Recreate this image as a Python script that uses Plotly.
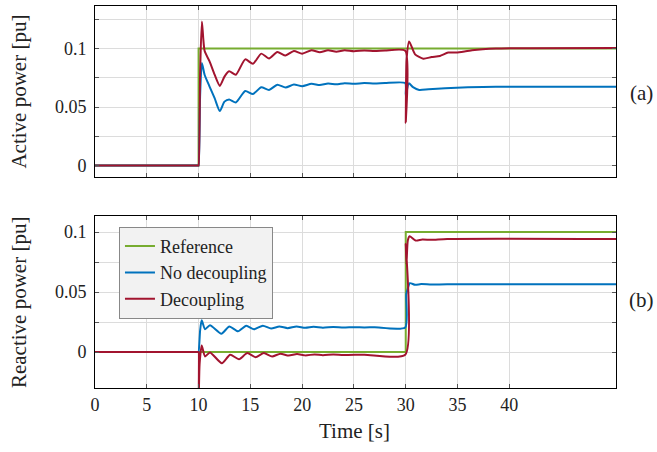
import plotly.graph_objects as go

# ---------------- data ----------------
# (a) Active power
t_ref_p = [0, 10, 10, 50.3]
v_ref_p = [0, 0, 0.1, 0.1]

t_nodec_p = [0, 9.97, 10, 10.15, 10.32, 10.58, 11.06, 11.55, 12.05, 12.5, 12.95, 13.6, 14.5, 15.25,
             16.05, 16.8, 17.6, 18.4, 19.2, 20.0, 20.9, 21.7, 22.5, 23.3, 24.1, 25, 26, 27, 28,
             29.95, 30.0, 30.3, 30.7, 31.3, 32.2, 33.8, 36, 38.7, 50.3]
v_nodec_p = [0, 0, 0, 0.06, 0.0876, 0.0776, 0.0675, 0.0575, 0.0465, 0.0546, 0.0565, 0.0539, 0.0637,
             0.0611, 0.0669, 0.0646, 0.069, 0.0666, 0.0692, 0.0678, 0.0698, 0.0688, 0.0701, 0.0694,
             0.0703, 0.0698, 0.0704, 0.0700, 0.0704, 0.0704, 0.060, 0.0702, 0.067, 0.0646, 0.0652,
             0.066, 0.0668, 0.0672, 0.0672]

t_dec_p = [0, 9.97, 10, 10.15, 10.32, 10.58, 11.06, 11.55, 12.05, 12.5, 12.95, 13.6, 14.5, 15.25, 16.05,
           16.8, 17.6, 18.4, 19.2, 20.0, 20.9, 21.7, 22.5, 23.3, 24.1, 25, 26, 27, 28, 29.95, 30.0,
           30.08, 30.33, 30.9, 31.7, 32.5, 33.3, 34.1, 34.9, 36.4, 38.7, 42, 50.3]
v_dec_p = [0, 0, 0, 0.08, 0.123, 0.098, 0.089, 0.0776, 0.068, 0.076, 0.0805, 0.0776, 0.0907, 0.0869,
           0.0956, 0.0915, 0.097, 0.094, 0.0979, 0.0956, 0.0985, 0.0968, 0.0985, 0.0972, 0.0985,
           0.0976, 0.0983, 0.0978, 0.0982, 0.098, 0.0365, 0.09, 0.106, 0.095, 0.0913, 0.0927,
           0.0936, 0.0965, 0.0965, 0.0985, 0.0999, 0.1003, 0.1005]

# (b) Reactive power
t_ref_q = [0, 30, 30, 50.3]
v_ref_q = [0, 0, 0.1, 0.1]

t_nodec_q = [0, 9.97, 10, 10.15, 10.3, 10.63, 11.1, 12.2, 12.97, 13.8, 14.6, 15.35, 16.2, 17, 17.8, 18.6,
             19.45, 20.3, 21.1, 22, 23, 24, 25, 26, 27, 29.95, 30.05, 30.2, 30.4, 30.9, 31.5, 32.5,
             34, 50.3]
v_nodec_q = [0, 0, 0, 0.018, 0.0265, 0.019, 0.0224, 0.0153, 0.0213, 0.0173, 0.0219, 0.019, 0.0219,
             0.0196, 0.0213, 0.0199, 0.0213, 0.0202, 0.021, 0.0203, 0.0208, 0.0204, 0.0207, 0.0205,
             0.0206, 0.0205, 0.048, 0.053, 0.0574, 0.056, 0.0566, 0.0562, 0.0565, 0.0565]

t_dec_q = [0, 9.97, 10, 10.02, 10.1, 10.3, 10.63, 11.1, 12.25, 13.05, 13.9, 14.7, 15.5, 16.3, 17.1, 17.9,
           18.7, 19.5, 20.3, 21.2, 22, 23, 24, 26, 29.95, 30.0, 30.07, 30.2, 30.37, 30.95, 31.6,
           32.5, 34, 50.3]
v_dec_q = [0, 0, 0, -0.035, -0.01, 0.0054, -0.0037, -0.0003, -0.0094, -0.0023, -0.006, -0.0009,
           -0.0043, -0.0009, -0.0037, -0.0014, -0.003, -0.0017, -0.0028, -0.002, -0.0026, -0.0021,
           -0.0025, -0.0022, -0.0023, 0.09, 0.073, 0.093, 0.0965, 0.0929, 0.0937, 0.0935, 0.0943,
           0.0943]

x_ticks = [0, 5, 10, 15, 20, 25, 30, 35, 40]
y_ticks = [0, 0.025, 0.05, 0.075, 0.1, 0.125]
y_ticktext = ["0", "", "0.05", "", "0.1", ""]

# ---------------- styling ----------------
GREEN, BLUE, RED = "#77AC30", "#0072BD", "#A2142F"
FONT = "Liberation Serif"
LW = 2

fig = go.Figure()

def add(t, v, name, color, xa, ya, show, smooth):
    line = dict(color=color, width=LW)
    if smooth:
        line.update(shape="spline", smoothing=0.6)
    fig.add_trace(go.Scatter(x=t, y=v, mode="lines", name=name, line=line,
                             xaxis=xa, yaxis=ya, showlegend=show))

add(t_ref_p, v_ref_p, "Reference", GREEN, "x", "y", False, False)
add(t_nodec_p, v_nodec_p, "No decoupling", BLUE, "x", "y", False, True)
add(t_dec_p, v_dec_p, "Decoupling", RED, "x", "y", False, True)
add(t_ref_q, v_ref_q, "Reference", GREEN, "x2", "y2", True, False)
add(t_nodec_q, v_nodec_q, "No decoupling", BLUE, "x2", "y2", True, True)
add(t_dec_q, v_dec_q, "Decoupling", RED, "x2", "y2", True, True)

def xax(**kw):
    d = dict(range=[0, 50.3], tickvals=x_ticks, showgrid=True, gridcolor="#dcdcdc",
             gridwidth=1, zeroline=False, showline=True, linecolor="black", linewidth=1,
             mirror="ticks", ticks="inside", ticklen=4, tickcolor="#555",
             tickfont=dict(family=FONT, size=18, color="#222"))
    d.update(kw)
    return d

def yax(**kw):
    d = dict(tickvals=y_ticks, ticktext=y_ticktext, showgrid=True, gridcolor="#dcdcdc",
             gridwidth=1, zeroline=False, showline=True, linecolor="black", linewidth=1,
             mirror="ticks", ticks="inside", ticklen=4, tickcolor="#555",
             tickfont=dict(family=FONT, size=18, color="#222"), ticklabelstandoff=4)
    d.update(kw)
    return d

fig.update_layout(
    width=657, height=452,
    margin=dict(l=95, r=41, t=6, b=64),
    paper_bgcolor="white", plot_bgcolor="white",
    font=dict(family=FONT, color="#222", size=18),
    xaxis=xax(domain=[0, 1], anchor="y", showticklabels=False),
    yaxis=yax(domain=[0.5524, 1], anchor="x", range=[-0.0098, 0.1363]),
    xaxis2=xax(domain=[0, 1], anchor="y2", matches="x", ticklabelstandoff=0),
    yaxis2=yax(domain=[0, 0.4503], anchor="x2", range=[-0.030, 0.1134]),
    legend=dict(x=0.046, y=0.422, xanchor="left", yanchor="top",
                bgcolor="#f2f2f2", bordercolor="#888", borderwidth=1,
                font=dict(family=FONT, size=18, color="#222"),
                itemwidth=30, tracegroupgap=0),
    showlegend=True,
)

ann = dict(xref="paper", yref="paper", showarrow=False, font=dict(family=FONT, size=21, color="#222"))
fig.add_annotation(ann, x=-0.1459, y=0.776, text="Active power [pu]", textangle=-90,
                   xanchor="center", yanchor="middle")
fig.add_annotation(ann, x=-0.1459, y=0.225, text="Reactive power [pu]", textangle=-90,
                   xanchor="center", yanchor="middle")
fig.add_annotation(ann, x=0.499, y=-0.112, text="Time [s]", xanchor="center", yanchor="middle")
fig.add_annotation(ann, x=1.048, y=0.7735, text="(a)", xanchor="center", yanchor="middle")
fig.add_annotation(ann, x=1.048, y=0.2304, text="(b)", xanchor="center", yanchor="middle")

fig.write_html("out.html", config={"displayModeBar": False},
               post_script="document.body.style.margin='0';document.body.style.padding='0';")
